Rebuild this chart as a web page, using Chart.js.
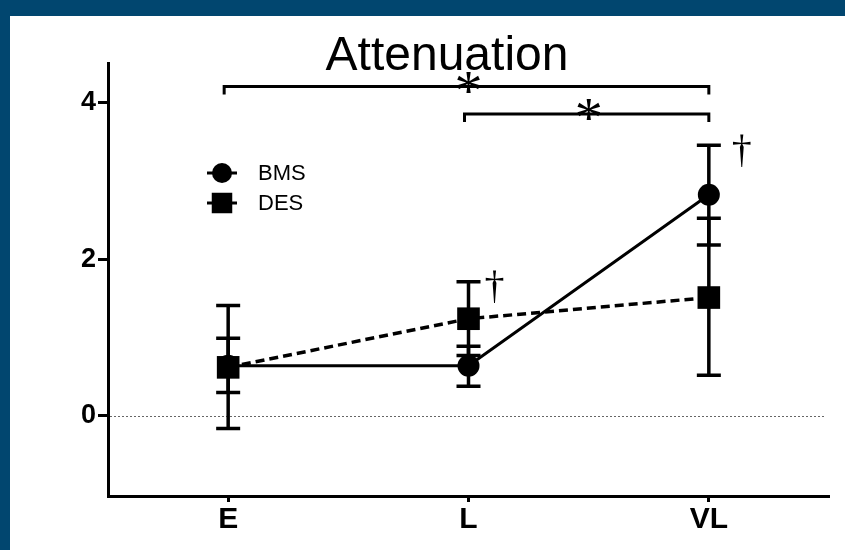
<!DOCTYPE html>
<html>
<head>
<meta charset="utf-8">
<script src="https://cdn.jsdelivr.net/npm/chart.js@4"></script>
<style>
  html, body { margin: 0; padding: 0; background: #01466f; overflow: hidden; }
  #panel { position: absolute; left: 10px; top: 16px; width: 835px; height: 534px; background: #fff; }
  canvas { display: block; }
</style>
</head>
<body>
<div id="panel"><canvas id="chart" width="835" height="534"></canvas></div>
<script>
// Categories and tick labels
const categories = ['E', 'L', 'VL'];
const yTicks = [0, 2, 4];
const yMin = -1.02;
const yMax = 4.5;

// BMS: mean with error bar ends
const bmsMean = [0.64, 0.64, 2.82];
const bmsLow = [0.30, 0.38, 2.18];
const bmsHigh = [0.99, 0.89, 3.45];

// DES: mean with error bar ends
const desMean = [0.62, 1.24, 1.51];
const desLow = [-0.16, 0.77, 0.52];
const desHigh = [1.41, 1.71, 2.52];

// Significance brackets: [from, to, level]
const brackets = [
  ['E', 'VL', 4.2],
  ['L', 'VL', 3.85]
];
// Dagger marks next to these categories, at this level
const daggers = [
  ['L', 1.66],
  ['VL', 3.39]
];

const errorSets = [
  { low: bmsLow, high: bmsHigh },
  { low: desLow, high: desHigh }
];

// Error bars and zero line, drawn under the markers
const underlay = {
  id: 'underlay',
  beforeDatasetsDraw(chart) {
    const ctx = chart.ctx;
    const x = chart.scales.x;
    const y = chart.scales.y;
    const area = chart.chartArea;

    // dotted zero line
    ctx.save();
    ctx.strokeStyle = '#666';
    ctx.lineWidth = 1;
    ctx.setLineDash([2, 2]);
    ctx.beginPath();
    ctx.moveTo(area.left + 2, Math.round(y.getPixelForValue(0)) + 0.5);
    ctx.lineTo(area.right - 3, Math.round(y.getPixelForValue(0)) + 0.5);
    ctx.stroke();
    ctx.restore();

    // error bars
    ctx.save();
    ctx.strokeStyle = '#000';
    ctx.lineWidth = 3.5;
    errorSets.forEach(set => {
      categories.forEach((cat, i) => {
        const px = x.getPixelForValue(i);
        const top = y.getPixelForValue(set.high[i]);
        const bot = y.getPixelForValue(set.low[i]);
        ctx.beginPath();
        ctx.moveTo(px, top);
        ctx.lineTo(px, bot);
        ctx.moveTo(px - 12, top);
        ctx.lineTo(px + 12, top);
        ctx.moveTo(px - 12, bot);
        ctx.lineTo(px + 12, bot);
        ctx.stroke();
      });
    });
    ctx.restore();
  }
};

// Title, legend, brackets, asterisks and daggers
const overlay = {
  id: 'overlay',
  afterDraw(chart) {
    const ctx = chart.ctx;
    const x = chart.scales.x;
    const y = chart.scales.y;
    const area = chart.chartArea;

    ctx.save();
    ctx.fillStyle = '#000';
    ctx.textAlign = 'center';
    ctx.textBaseline = 'alphabetic';
    ctx.font = '48px "Liberation Sans", Arial, sans-serif';
    ctx.fillText('Attenuation', 437, 54);

    // brackets
    ctx.strokeStyle = '#000';
    ctx.lineWidth = 3;
    brackets.forEach(([a, b, level]) => {
      const x1 = x.getPixelForValue(categories.indexOf(a)) - 4;
      const x2 = x.getPixelForValue(categories.indexOf(b));
      const py = y.getPixelForValue(level);
      ctx.beginPath();
      ctx.moveTo(x1, py + 8);
      ctx.lineTo(x1, py);
      ctx.lineTo(x2, py);
      ctx.lineTo(x2, py + 8);
      ctx.stroke();
      ctx.font = '56px "Liberation Serif", "Times New Roman", serif';
      ctx.fillText('*', (x1 + x2) / 2 + 2, py + 23);
    });

    // daggers
    ctx.font = '40px "Liberation Serif", "Times New Roman", serif';
    daggers.forEach(([cat, level]) => {
      const px = x.getPixelForValue(categories.indexOf(cat));
      const py = y.getPixelForValue(level);
      ctx.fillText('\u2020', px + (cat === 'VL' ? 33 : 26), py + 12);
    });

    // legend
    ctx.font = '22px "Liberation Sans", Arial, sans-serif';
    ctx.textAlign = 'left';
    ctx.textBaseline = 'middle';
    chart.data.datasets.forEach((ds, i) => {
      const lx = area.left + 114;
      const ly = area.top + 110 + i * 30;
      ctx.lineWidth = 3;
      ctx.setLineDash([]);
      ctx.beginPath();
      ctx.moveTo(lx - 15, ly);
      ctx.lineTo(lx + 15, ly);
      ctx.stroke();
      Chart.helpers.drawPoint(ctx, {
        pointStyle: ds.pointStyle,
        radius: ds.pointStyle === 'circle' ? 10 : 14.5,
        borderWidth: 0
      }, lx, ly);
      ctx.fillText(ds.label, lx + 36, ly + 1);
    });
    ctx.restore();
  }
};

new Chart(document.getElementById('chart'), {
  type: 'line',
  data: {
    labels: categories,
    datasets: [
      {
        label: 'BMS',
        data: bmsMean,
        borderColor: '#000',
        backgroundColor: '#000',
        borderWidth: 3,
        pointStyle: 'circle',
        pointRadius: 11,
        pointBorderWidth: 0,
        tension: 0,
        order: 1
      },
      {
        label: 'DES',
        data: desMean,
        borderColor: '#000',
        backgroundColor: '#000',
        borderWidth: 3.5,
        borderDash: [9, 5],
        pointStyle: 'rect',
        pointRadius: 16,
        pointBorderWidth: 0,
        tension: 0,
        order: 0
      }
    ]
  },
  options: {
    responsive: false,
    animation: false,
    layout: { padding: { left: 0, top: 47, right: 14, bottom: 0 } },
    plugins: {
      legend: { display: false },
      tooltip: { enabled: false },
      title: { display: false }
    },
    scales: {
      x: {
        offset: true,
        grid: {
          offset: false,
          drawOnChartArea: false,
          drawTicks: true,
          tickLength: 6,
          tickWidth: 3,
          tickColor: '#000'
        },
        border: { display: true, color: '#000', width: 3 },
        ticks: {
          color: '#000',
          padding: 0,
          font: { family: '"Liberation Sans", Arial, sans-serif', size: 30, weight: 'bold' }
        },
        afterFit(scale) { scale.height = 54; }
      },
      y: {
        min: yMin,
        max: yMax,
        grid: {
          drawOnChartArea: false,
          drawTicks: true,
          tickLength: 10,
          tickWidth: 3,
          tickColor: '#000'
        },
        border: { display: true, color: '#000', width: 3 },
        ticks: {
          color: '#000',
          padding: 2,
          font: { family: '"Liberation Sans", Arial, sans-serif', size: 27, weight: 'bold' }
        },
        afterBuildTicks(scale) {
          scale.ticks = yTicks.map(v => ({ value: v }));
        },
        afterFit(scale) { scale.width = 98; }
      }
    }
  },
  plugins: [underlay, overlay]
});
</script>
</body>
</html>
